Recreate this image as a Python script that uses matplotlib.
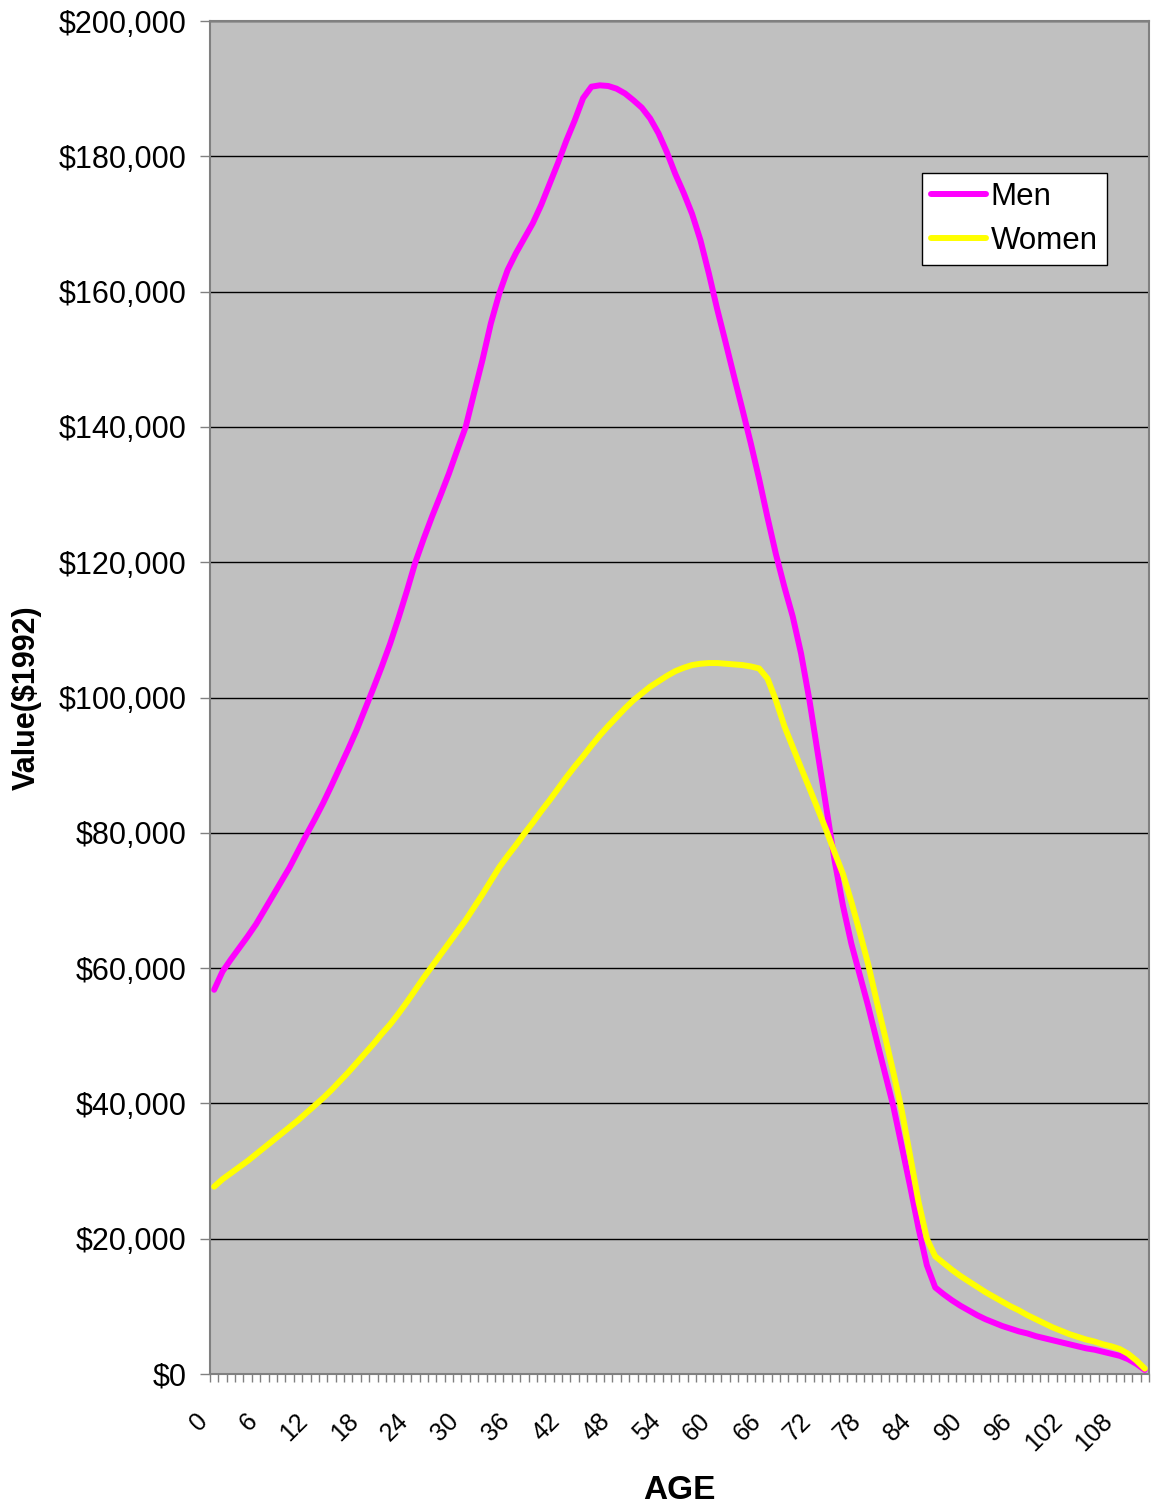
import matplotlib
matplotlib.use("Agg")
import matplotlib.pyplot as plt
import matplotlib.transforms as mtransforms
import numpy as np
from matplotlib.ticker import FuncFormatter

plt.rcParams['font.family'] = ['Liberation Sans', 'DejaVu Sans']

# ages 0..111, values in thousands of 1992 dollars
ages = list(range(0, 112))

men = [56.8, 59.5, 61.3, 63.0, 64.7, 66.5, 68.6, 70.7, 72.8, 74.9,
       77.3, 79.7, 82.0, 84.4, 87.0, 89.7, 92.4, 95.2, 98.3, 101.4,
       104.6, 108.0, 111.8, 115.8, 120.0, 123.5, 126.8, 129.9, 133.1, 136.6,
       140.0, 145.0, 149.9, 155.3, 159.7, 163.2, 165.7, 167.9, 170.1, 172.8,
       175.9, 179.0, 182.3, 185.3, 188.6, 190.3, 190.5, 190.4, 190.0, 189.3,
       188.3, 187.2, 185.6, 183.4, 180.6, 177.4, 174.6, 171.5, 167.6, 162.7,
       157.4, 152.5, 147.5, 142.6, 137.6, 132.3, 126.6, 121.2, 116.4, 112.0,
       106.5, 99.6, 91.7, 83.8, 75.9, 69.2, 63.6, 59.0, 54.4, 49.4,
       44.5, 39.6, 33.7, 27.8, 21.6, 16.1, 12.8, 11.8, 10.9, 10.1,
       9.4, 8.7, 8.1, 7.6, 7.1, 6.7, 6.3, 6.0, 5.6, 5.3,
       5.0, 4.7, 4.4, 4.1, 3.8, 3.6, 3.3, 3.0, 2.7, 2.2,
       1.5, 0.6]

women = [27.7, 28.8, 29.7, 30.6, 31.5, 32.5, 33.5, 34.5, 35.5, 36.5,
         37.5, 38.6, 39.7, 40.8, 42.0, 43.3, 44.6, 46.0, 47.4, 48.8,
         50.3, 51.7, 53.3, 55.0, 56.8, 58.6, 60.3, 62.0, 63.7, 65.4,
         67.1, 69.0, 70.9, 72.9, 74.9, 76.6, 78.2, 79.9, 81.5, 83.2,
         84.8, 86.5, 88.2, 89.8, 91.3, 92.9, 94.4, 95.8, 97.1, 98.4,
         99.6, 100.6, 101.6, 102.4, 103.2, 103.9, 104.4, 104.8, 105.0, 105.1,
         105.1, 105.0, 104.9, 104.8, 104.6, 104.3, 102.8, 99.6, 95.8, 92.7,
         89.6, 86.6, 83.5, 80.4, 77.1, 73.9, 69.8, 65.3, 60.6, 55.2,
         50.0, 44.6, 39.0, 32.3, 25.5, 20.0, 17.4, 16.4, 15.4, 14.5,
         13.7, 12.9, 12.1, 11.4, 10.7, 10.0, 9.4, 8.7, 8.1, 7.5,
         6.9, 6.4, 5.9, 5.5, 5.1, 4.8, 4.4, 4.1, 3.7, 3.0,
         2.0, 0.8]

y_ticks = list(range(0, 200001, 20000))
x_labels = list(range(0, 109, 6))

fig = plt.figure(figsize=(11.51, 15.04), dpi=100)
ax = fig.add_axes([0.1824, 0.0864, 0.8159, 0.8996])
ax.set_facecolor('#C0C0C0')

men_v = np.array(men) * 1000
women_v = np.array(women) * 1000
ax.plot(ages, men_v, color='#FF00FF', lw=4.3, solid_capstyle='round',
        solid_joinstyle='round', label='Men', zorder=3)
ax.plot(ages, women_v, color='#FFFF00', lw=4.3, solid_capstyle='round',
        solid_joinstyle='round', label='Women', zorder=3)

ax.set_xlim(-0.5, len(ages) - 0.5)
ax.set_ylim(0, 200000)

ax.set_yticks(y_ticks)
ax.yaxis.set_major_formatter(FuncFormatter(lambda v, p: '${:,.0f}'.format(v)))
ax.yaxis.grid(True, color='black', lw=1)
ax.set_axisbelow(True)
ax.tick_params(axis='y', length=7, width=1, color='#808080', labelsize=22, pad=10)

ax.set_xticks(x_labels)
ax.set_xticklabels([str(v) for v in x_labels], rotation=45, ha='right',
                   rotation_mode='anchor')
ax.set_xticks(np.arange(-0.5, len(ages), 1), minor=True)
ax.tick_params(axis='x', which='major', length=0, labelsize=18, pad=25)
ax.tick_params(axis='x', which='minor', length=6, width=1, color='#808080')
shift = mtransforms.ScaledTranslation(-0.19, 0, fig.dpi_scale_trans)
for lab in ax.get_xticklabels():
    lab.set_transform(lab.get_transform() + shift)

for s in ax.spines.values():
    s.set_color('#808080')
    s.set_linewidth(1.5)

ax.set_xlabel('AGE', fontsize=24, fontweight='bold', labelpad=14)
ax.set_ylabel('Value($1992)', fontsize=22, fontweight='bold', labelpad=12)

leg = ax.legend(loc='upper left', bbox_to_anchor=(0.758, 0.888), fontsize=22.5,
                frameon=True, fancybox=False, edgecolor='black',
                borderaxespad=0, handlelength=1.75, handletextpad=0.15,
                labelspacing=0.45, borderpad=0.3)
leg.get_frame().set_linewidth(1)
leg.get_frame().set_facecolor('white')
leg.get_frame().set_alpha(1)

fig.savefig('out.png', dpi=100)
